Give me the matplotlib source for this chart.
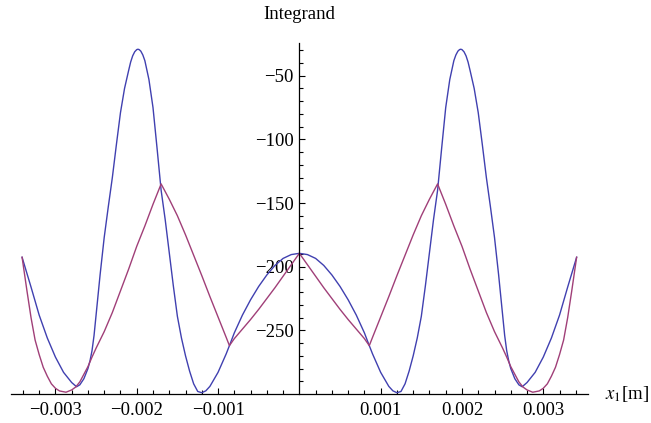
import matplotlib
matplotlib.use("Agg")
import matplotlib.pyplot as plt
import numpy as np

# x positions in mm
blue_x = [-3.41, -3.3, -3.2, -3.1, -3.0, -2.9, -2.8, -2.74, -2.7, -2.65, -2.6, -2.575, -2.55,
          -2.525, -2.5, -2.45, -2.4, -2.35, -2.3, -2.25, -2.2, -2.15, -2.1, -2.075, -2.05,
          -2.025, -2.0, -1.985, -1.97, -1.95, -1.925, -1.9, -1.85, -1.8, -1.75, -1.7, -1.65,
          -1.6, -1.55, -1.5, -1.45, -1.4, -1.35, -1.3, -1.25, -1.2, -1.15, -1.1, -1.0, -0.9,
          -0.86, -0.8, -0.7, -0.6, -0.5, -0.4, -0.3, -0.2, -0.1, 0.0,
          0.1, 0.2, 0.3, 0.4, 0.5, 0.6, 0.7, 0.8, 0.86, 0.9, 1.0, 1.1, 1.15, 1.2, 1.25,
          1.3, 1.35, 1.4, 1.45, 1.5, 1.55, 1.6, 1.65, 1.7, 1.75, 1.8, 1.85, 1.9, 1.925,
          1.95, 1.97, 1.985, 2.0, 2.025, 2.05, 2.075, 2.1, 2.15, 2.2, 2.25, 2.3, 2.35, 2.4,
          2.45, 2.5, 2.525, 2.55, 2.575, 2.6, 2.65, 2.7, 2.74, 2.8, 2.9, 3.0, 3.1, 3.2, 3.3,
          3.41]
blue_y = [-192.6, -216, -238, -256, -271, -283, -291, -294.3, -292.8, -288, -280, -274, -266,
          -254, -238, -206, -177, -153, -130, -104, -79, -60, -46, -39.3, -34.4,
          -31.2, -29.5, -29.2, -29.5, -30.7, -33.7, -38.2, -53, -75, -107, -140, -163,
          -189, -215, -239, -256, -270, -282, -292, -298, -299, -297.5, -294, -283, -268.5,
          -262, -252, -238, -226, -215.5, -206.5, -199, -193.5, -190.5, -189.5,
          -190.5, -193.5, -199, -206.5, -215.5, -226, -238, -252, -262, -268.5, -283, -294, -297.5, -299, -298,
          -292, -282, -270, -256, -239, -215, -189, -163, -140, -107, -75, -53, -38.2, -33.7,
          -30.7, -29.5, -29.2, -29.5, -31.2, -34.4, -39.3, -46, -60, -79, -104, -130, -153, -177,
          -206, -238, -254, -266, -274, -280, -288, -292.8, -294.3, -291, -283, -271, -256, -238, -216,
          -192.6]

mag_x = [-3.41, -3.35, -3.3, -3.25, -3.2, -3.15, -3.1, -3.05, -3.0, -2.95, -2.87, -2.8, -2.75,
         -2.7, -2.6, -2.55, -2.5, -2.4, -2.3, -2.2, -2.1, -2.0, -1.9, -1.8, -1.7, -1.6, -1.5,
         -1.4, -1.3, -1.2, -1.1, -1.0, -0.9, -0.86, -0.8, -0.7, -0.6, -0.5, -0.4, -0.3,
         -0.2, -0.1, 0.0,
         0.1, 0.2, 0.3, 0.4, 0.5, 0.6, 0.7, 0.8, 0.86, 0.9, 1.0, 1.1, 1.2, 1.3, 1.4,
         1.5, 1.6, 1.7, 1.8, 1.9, 2.0, 2.1, 2.2, 2.3, 2.4, 2.5, 2.55, 2.6, 2.7, 2.75, 2.8,
         2.87, 2.95, 3.0, 3.05, 3.1, 3.15, 3.2, 3.25, 3.3, 3.35, 3.41]
mag_y = [-192.6, -219, -240, -257.6, -269, -279, -286, -292, -295.5, -297.6, -298.6, -296.8, -294.5,
         -290.5, -278.5, -271, -264, -251, -236, -219, -202, -184, -168, -151, -135, -147, -160,
         -175, -191, -207, -223.5, -239.5, -255.5, -262, -256.5, -249, -241.5, -233.5, -225, -216.5,
         -207.5, -198.5, -189.5,
         -198.5, -207.5, -216.5, -225, -233.5, -241.5, -249, -256.5, -262, -255.5, -239.5, -223.5, -207, -191, -175,
         -160, -147, -135, -151, -168, -184, -202, -219, -236, -251, -264, -271, -278.5, -290.5, -294.5, -296.8,
         -298.6, -297.6, -295.5, -292, -286, -279, -269, -257.6, -240, -219, -192.6]

xtick_pos = [-0.003, -0.002, -0.001, 0.001, 0.002, 0.003]
xtick_labels = ["\u22120.003", "\u22120.002", "\u22120.001", "0.001", "0.002", "0.003"]
ytick_pos = [-250, -200, -150, -100, -50]
ytick_labels = ["\u2212250", "\u2212200", "\u2212150", "\u2212100", "\u221250"]

plt.rcParams["font.family"] = ["Liberation Serif", "DejaVu Serif"]
plt.rcParams["mathtext.fontset"] = "stix"

fig = plt.figure(figsize=(6.51, 4.23), dpi=100)
ax = fig.add_axes([0.01644, 0.06856, 0.8868, 0.8298])

ax.plot(np.array(blue_x) * 1e-3, blue_y, color="#4040b0", lw=1.0)
ax.plot(np.array(mag_x) * 1e-3, mag_y, color="#a03f78", lw=1.0)

ax.set_xlim(-0.00355, 0.00355)
ax.set_ylim(-300, -24.3)

for s in ["top", "right"]:
    ax.spines[s].set_visible(False)
ax.spines["left"].set_position(("data", 0))
for s in ["left", "bottom"]:
    ax.spines[s].set_linewidth(0.9)

ax.set_xticks(xtick_pos)
ax.set_xticklabels(xtick_labels)
minor_x = [v * 1e-4 for v in range(-34, 35, 2) if v % 10 != 0]
ax.set_xticks(minor_x, minor=True)
ax.set_yticks(ytick_pos)
ax.set_yticklabels(ytick_labels)
ax.set_yticks([v for v in range(-290, -20, 10) if v % 50 != 0], minor=True)

ax.tick_params(which="both", direction="in", width=0.8, labelsize=13.5)
ax.tick_params(which="major", length=4.3)
ax.tick_params(which="minor", length=2.6)
ax.tick_params(axis="x", pad=6)
ax.tick_params(axis="y", pad=4)

ax.annotate("Integrand", xy=(0, 1.0), xycoords=("data", "axes fraction"),
            xytext=(0, 20), textcoords="offset pixels", ha="center", va="bottom",
            fontsize=13.5)
ax.annotate("$x_1$[m]", xy=(1.0, 0), xycoords="axes fraction", xytext=(17, 0),
            textcoords="offset pixels", ha="left", va="center", fontsize=13.5)

fig.savefig("out.png", dpi=100)
